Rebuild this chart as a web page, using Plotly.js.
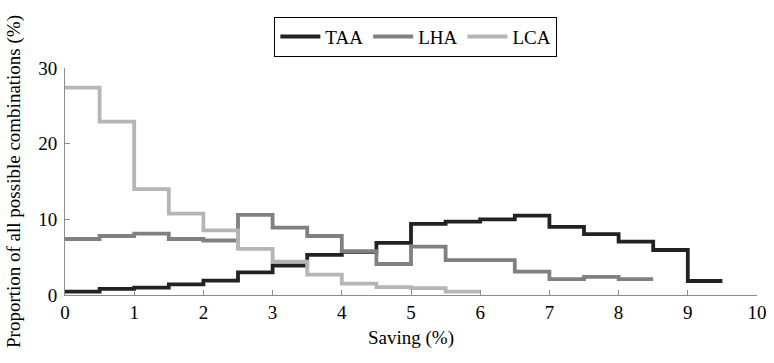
<!DOCTYPE html>
<html><head><meta charset="utf-8">
<script src="https://cdn.plot.ly/plotly-3.0.1.min.js"></script>
<style>html,body{margin:0;padding:0;background:#fff}#c{width:774px;height:363px}</style>
</head><body><div id="c"></div>
<script>
var binEdges = [0,0.5,1,1.5,2,2.5,3,3.5,4,4.5,5,5.5,6,6.5,7,7.5,8,8.5,9,9.5];
var taa = [0.45,0.8,0.97,1.4,1.9,3.0,3.9,5.3,5.7,6.9,9.4,9.7,10.0,10.5,9.0,8.05,7.05,5.95,1.85];
var lha = [7.4,7.8,8.1,7.4,7.2,10.6,8.9,7.8,5.8,4.1,6.4,4.6,4.6,3.1,2.1,2.4,2.1];
var lca = [27.4,22.9,14.0,10.75,8.55,6.1,4.4,2.7,1.5,1.05,0.9,0.45];
var names = ['TAA','LHA','LCA'];
var colors = ['#222222','#808080','#b5b5b5'];
var FONT = '"Liberation Serif", "Times New Roman", Times, serif';

function stepXY(vals){
  var x = binEdges.slice(0, vals.length + 1);
  var y = vals.concat([vals[vals.length-1]]);
  return {x:x, y:y};
}
var series = [taa, lha, lca];
var data = series.map(function(v,i){
  var s = stepXY(v);
  return {x:s.x, y:s.y, type:'scatter', mode:'lines', name:names[i],
    line:{shape:'hv', color:colors[i], width:3.8}};
});
var axisCommon = {
  showgrid:false, zeroline:false, showline:true, linecolor:'#8c8c8c', linewidth:1,
  ticks:'inside', ticklen:5, tickcolor:'#8c8c8c', tickwidth:1,
  tickfont:{family:FONT, size:19, color:'#000'}
};
var layout = {
  width:774, height:363,
  margin:{l:65, r:17, t:68, b:68, autoexpand:false},
  paper_bgcolor:'#fff', plot_bgcolor:'#fff',
  font:{family:FONT, color:'#000'},
  showlegend:true,
  legend:{orientation:'h', x:0.507, xanchor:'center', y:1.05, yanchor:'bottom',
    bordercolor:'#000', borderwidth:1, font:{family:FONT, size:19, color:'#000'},
    itemwidth:40, bgcolor:'#fff', tracegroupgap:0},
  xaxis:Object.assign({}, axisCommon, {range:[0,10], tickvals:[0,1,2,3,4,5,6,7,8,9,10],
    title:{text:'Saving (%)', font:{family:FONT, size:19}, standoff:8}}),
  yaxis:Object.assign({}, axisCommon, {range:[0,30], tickvals:[0,10,20,30], ticklabelstandoff:3,
    title:{text:'Proportion of all possible combinations (%)', font:{family:FONT, size:19}, standoff:12}})
};
Plotly.newPlot('c', data, layout, {displayModeBar:false, staticPlot:true});
</script></body></html>
